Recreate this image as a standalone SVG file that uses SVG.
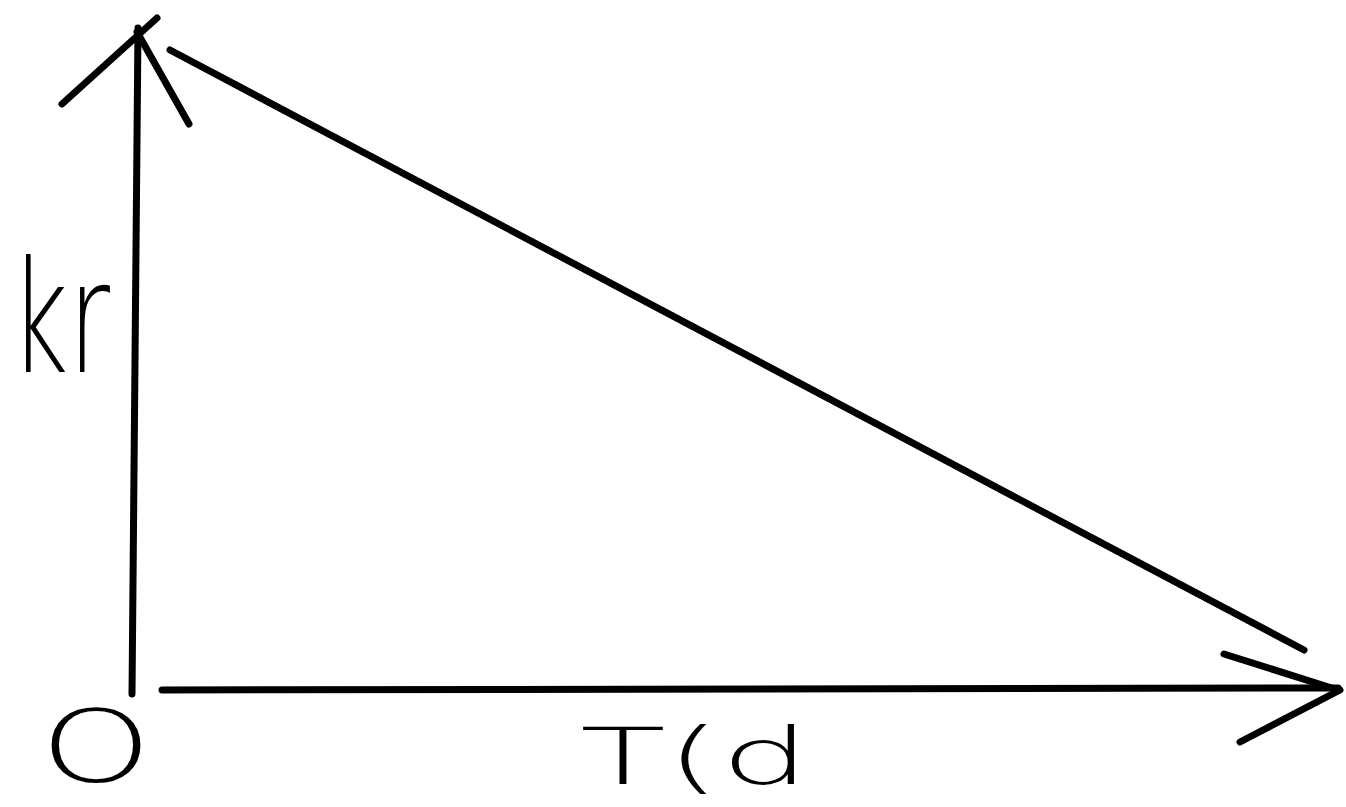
<svg xmlns="http://www.w3.org/2000/svg" width="1346" height="807" viewBox="0 0 1346 807">
<style>
.ln{stroke:#000;stroke-width:7;stroke-linecap:round;fill:none}
.hw{font-family:"DejaVu Sans","Liberation Sans",sans-serif;font-weight:200;fill:#000}
</style>
<rect width="1346" height="807" fill="#fff"/>
<g id="connectors">
<line class="ln" x1="132" y1="694" x2="138" y2="28"/>
<line class="ln" x1="62" y1="104" x2="157" y2="18"/>
<line class="ln" x1="137" y1="32" x2="189" y2="124"/>
<line class="ln" x1="162" y1="690" x2="1338" y2="688"/>
<line class="ln" x1="1224" y1="654" x2="1338" y2="690"/>
<line class="ln" x1="1240" y1="742" x2="1340" y2="690"/>
<line class="ln" x1="170" y1="50" x2="1304" y2="650"/>
</g>
<g id="label-kr"><text class="hw" x="10" y="372" font-size="155" textLength="100" lengthAdjust="spacingAndGlyphs">kr</text></g>
<g id="label-o"><text class="hw" x="40" y="782" font-size="100" textLength="112" lengthAdjust="spacingAndGlyphs">O</text></g>
<g id="label-td"><text class="hw" x="580" y="784" font-size="78" textLength="230" lengthAdjust="spacingAndGlyphs">T(d</text></g>
</svg>
